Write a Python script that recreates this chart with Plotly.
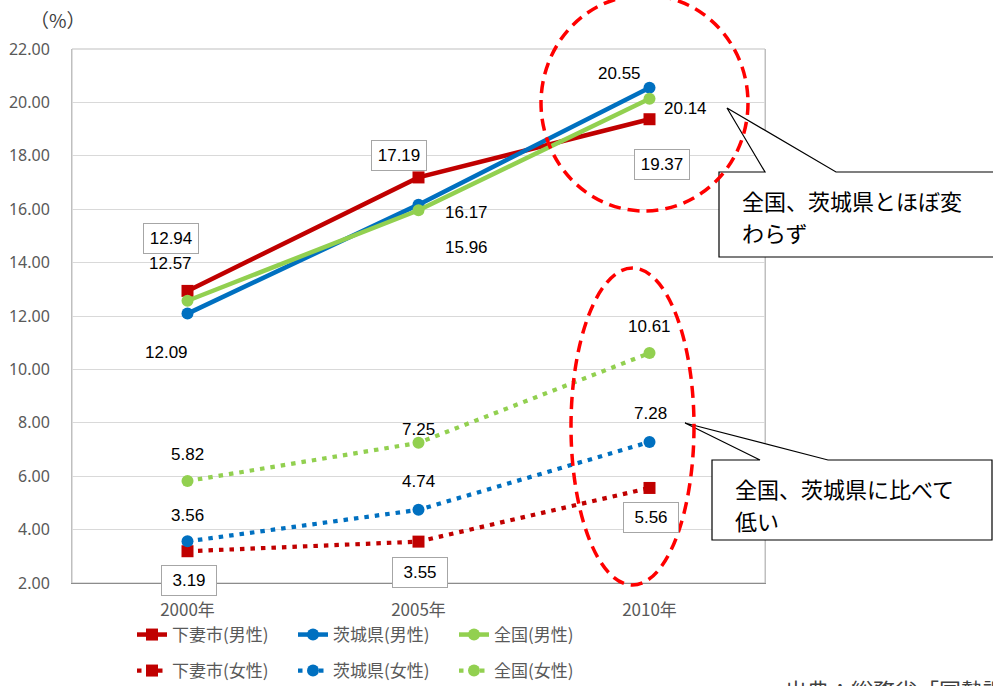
import plotly.graph_objects as go

# ---------------- data ----------------
years = ["2000年", "2005年", "2010年"]
y_ticks = [2, 4, 6, 8, 10, 12, 14, 16, 18, 20, 22]

shimotsuma_m = [12.94, 17.19, 19.37]
ibaraki_m = [12.09, 16.17, 20.55]
zenkoku_m = [12.57, 15.96, 20.14]
shimotsuma_f = [3.19, 3.55, 5.56]
ibaraki_f = [3.56, 4.74, 7.28]
zenkoku_f = [5.82, 7.25, 10.61]

names = ["下妻市(男性)", "茨城県(男性)", "全国(男性)",
         "下妻市(女性)", "茨城県(女性)", "全国(女性)"]
callout1 = ["全国、茨城県とほぼ変", "わらず"]
callout2 = ["全国、茨城県に比べて", "低い"]
source_text = "出典：総務省「国勢調査」"

# ---------------- layout helpers (pixel -> paper) ----------------
W, H = 993, 686
L, R, T, B = 72, 765, 49, 583


def px(x):
    return (x - L) / (R - L)


def py(y):
    return (B - y) / (B - T)


RED, BLUE, GREEN = "#C00000", "#0070C0", "#92D050"
CJK = "Noto Sans CJK JP"

fig = go.Figure()

series = [
    (names[0], shimotsuma_m, RED, "square", "solid", "legend"),
    (names[1], ibaraki_m, BLUE, "circle", "solid", "legend"),
    (names[2], zenkoku_m, GREEN, "circle", "solid", "legend"),
    (names[3], shimotsuma_f, RED, "square", "4.5px,6px", "legend2"),
    (names[4], ibaraki_f, BLUE, "circle", "4.5px,6px", "legend2"),
    (names[5], zenkoku_f, GREEN, "circle", "4.5px,6px", "legend2"),
]
for name, vals, col, sym, dash, lg in series:
    fig.add_trace(go.Scatter(
        x=years, y=vals, name=name, mode="lines+markers",
        line=dict(color=col, width=4.5 if dash == "solid" else 4.2, dash=dash),
        marker=dict(color=col, symbol=sym, size=12),
        legend=lg,
    ))

# data labels: (values, offsets (dx, dy) in px, boxed)
label_specs = [
    (shimotsuma_m, [(-17, 52), (-20, 22), (12, -45)], True),
    (ibaraki_m, [(-21, -39), (48, -8), (-30, 14)], False),
    (zenkoku_m, [(-17, 37), (48, -37), (36, -10)], False),
    (shimotsuma_f, [(1, -29), (1, -31), (1, -30)], True),
    (ibaraki_f, [(0, 26), (0, 28), (1, 29)], False),
    (zenkoku_f, [(0, 27), (0, 13), (0, 27)], False),
]
annotations = []
for vals, offs, boxed in label_specs:
    for yr, v, (dx, dy) in zip(years, vals, offs):
        a = dict(x=yr, y=v, xref="x", yref="y", text=f"{v:.2f}",
                 showarrow=False, xshift=dx, yshift=dy,
                 font=dict(family="Liberation Sans", size=17, color="#000000"))
        if boxed:
            a.update(bordercolor="#A6A6A6", borderwidth=1, borderpad=5,
                     bgcolor="white", width=44)
        annotations.append(a)

# axis unit
annotations.append(dict(x=px(58), y=py(20), xref="paper", yref="paper",
                        xanchor="center", yanchor="middle",
                        text="（%）", showarrow=False,
                        font=dict(family=CJK, size=19, color="#404040")))

# callout texts
for i, t in enumerate(callout1):
    annotations.append(dict(x=px(740), y=py(200 + 32 * i), xref="paper", yref="paper",
                            xanchor="left", yanchor="middle", text=t, showarrow=False,
                            font=dict(family=CJK, size=22, color="#000000")))
for i, t in enumerate(callout2):
    annotations.append(dict(x=px(733), y=py(488 + 32 * i), xref="paper", yref="paper",
                            xanchor="left", yanchor="middle", text=t, showarrow=False,
                            font=dict(family=CJK, size=22, color="#000000")))
annotations.append(dict(x=px(783), y=py(671), xref="paper", yref="paper",
                        xanchor="left", yanchor="top", text=source_text, showarrow=False,
                        font=dict(family=CJK, size=22, color="#404040")))


def callout_path(left, top, right, bottom, t1, tip, t2):
    pts = [(left, top), (t1, top), tip, (t2, top), (right, top), (right, bottom), (left, bottom)]
    return "M " + " L ".join(f"{px(x):.5f},{py(y):.5f}" for x, y in pts) + " Z"


shapes = [
    # plot frame
    dict(type="rect", xref="paper", yref="paper", x0=0, x1=1, y0=0, y1=1,
         line=dict(color="#BFBFBF", width=1), layer="below"),
    # callouts
    dict(type="path", xref="paper", yref="paper",
         path=callout_path(719, 172, 1010, 257, 765, (727, 108), 836),
         fillcolor="white", line=dict(color="#000000", width=1.2)),
    dict(type="path", xref="paper", yref="paper",
         path=callout_path(712, 460, 992, 540, 760, (685, 423), 828),
         fillcolor="white", line=dict(color="#000000", width=1.2)),
    # dashed ellipses
    dict(type="circle", xref="paper", yref="paper",
         x0=px(541), x1=px(748), y0=py(211), y1=py(-5),
         line=dict(color="#FF0000", width=3.5, dash="12px,7px")),
    dict(type="circle", xref="paper", yref="paper",
         x0=px(571), x1=px(694), y0=py(585), y1=py(268),
         line=dict(color="#FF0000", width=3.5, dash="12px,7px")),
]

legend_common = dict(orientation="h", xanchor="left", yanchor="middle",
                     entrywidthmode="pixels", entrywidth=116,
                     font=dict(family=CJK, size=17, color="#595959"),
                     bgcolor="rgba(0,0,0,0)", itemclick=False, itemdoubleclick=False)

fig.update_layout(
    width=W, height=H,
    margin=dict(l=L, r=W - R, t=T, b=H - B, pad=0, autoexpand=False),
    paper_bgcolor="white", plot_bgcolor="white",
    showlegend=True,
    legend=dict(x=px(132), y=py(635), **legend_common),
    legend2=dict(x=px(132), y=py(671), **legend_common),
    xaxis=dict(type="category", categoryorder="array", categoryarray=years,
               range=[-0.5, 2.5], showgrid=False, showline=True,
               linecolor="#8C8C8C", linewidth=1, ticks="", ticklabelstandoff=12,
               tickfont=dict(family=CJK, size=17, color="#595959"), zeroline=False),
    yaxis=dict(range=[2, 22], tickvals=y_ticks, tickformat=".2f",
               showgrid=True, gridcolor="#D9D9D9", gridwidth=1,
               showline=True, linecolor="#BFBFBF", linewidth=1, mirror=True,
               ticks="", ticklabelstandoff=18, zeroline=False,
               tickfont=dict(family="Noto Sans", size=16, color="#595959")),
    annotations=annotations,
    shapes=shapes,
)

fig.write_html("out.html")
